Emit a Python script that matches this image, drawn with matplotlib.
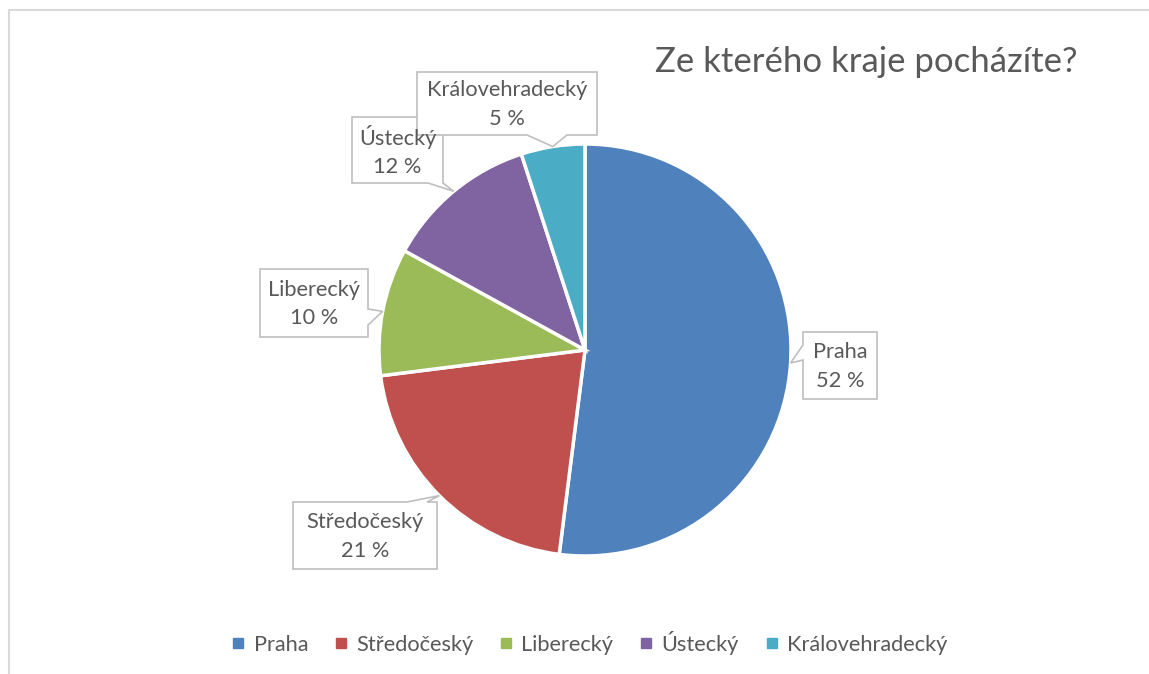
import matplotlib
matplotlib.use('Agg')
import matplotlib.pyplot as plt
from matplotlib.patches import Polygon
from matplotlib.lines import Line2D
import numpy as np

plt.rcParams['font.family'] = ['Lato', 'DejaVu Sans']

regions = ['Praha', 'Středočeský', 'Liberecký', 'Ústecký', 'Královehradecký']
shares = [52, 21, 10, 12, 5]
colors = ['#4F81BD', '#C0504D', '#9BBB59', '#8064A2', '#4BACC6']
title = 'Ze kterého kraje pocházíte?'

# callout boxes in screen pixels: (left, top, right, bottom), pointer side, pointer base span
boxes = {
    'Praha': ((803, 332, 877, 399), 'left', (345, 360)),
    'Středočeský': ((293, 502, 437, 569), 'top', (407, 427)),
    'Liberecký': ((260, 269, 368, 337), 'right', (309, 325)),
    'Ústecký': ((352, 117, 443, 183), 'bottom', (428, 443)),
    'Královehradecký': ((417, 72, 597, 135), 'bottom', (527, 567)),
}

W, H = 1149, 674
txt = '#595959'
fs = 15.7
fig = plt.figure(figsize=(W / 100, H / 100), dpi=100)
ax = fig.add_axes([0, 0, 1, 1])

cx, cy, r = 585, H - 350, 206
wedges, _ = ax.pie(shares, colors=colors, startangle=90, counterclock=False,
                   center=(cx, cy), radius=r, frame=True,
                   wedgeprops=dict(edgecolor='white', linewidth=2.5))
ax.set_xlim(0, W)
ax.set_ylim(0, H)
ax.set_aspect('auto')
ax.axis('off')

# outer chart frame
ax.plot([8.5, W], [H - 9.5, H - 9.5], color='#d9d9d9', lw=1.5, clip_on=False)
ax.plot([8.5, 8.5], [0, H - 9.5], color='#d9d9d9', lw=1.5, clip_on=False)


def callout(name, value, wedge):
    (l, t, rr, b), side, (b0, b1) = boxes[name]
    t, b = H - t, H - b
    mid = np.deg2rad((wedge.theta1 + wedge.theta2) / 2)
    tip = (cx + r * np.cos(mid), cy + r * np.sin(mid))
    if side == 'top':
        pts = [(l, t), (b0, t), tip, (b1, t), (rr, t), (rr, b), (l, b)]
    elif side == 'right':
        pts = [(l, t), (rr, t), (rr, H - b0), tip, (rr, H - b1), (rr, b), (l, b)]
    elif side == 'bottom':
        pts = [(l, t), (rr, t), (rr, b), (b1, b), tip, (b0, b), (l, b)]
    else:
        pts = [(l, t), (rr, t), (rr, b), (l, b), (l, H - b1), tip, (l, H - b0)]
    ax.add_patch(Polygon(pts, closed=True, facecolor='white',
                         edgecolor='#bfbfbf', lw=1.2, zorder=3))
    ax.text((l + rr) / 2, (t + b) / 2 - 1, f'{name}\n{value} %', ha='center',
            va='center', fontsize=fs, color=txt, linespacing=1.55, zorder=4)


for name, value, w in zip(regions, shares, wedges):
    callout(name, value, w)

ax.text(866, H - 62, title, ha='center', va='center', fontsize=25, color=txt)

handles = [Line2D([], [], marker='s', linestyle='', color=c, markersize=7)
           for c in colors]
ax.legend(handles, regions, ncol=5, loc='center',
          bbox_to_anchor=(589 / W, 1 - 643 / H), frameon=False, fontsize=fs,
          labelcolor=txt, handlelength=0.7, handletextpad=0.35,
          columnspacing=1.15)

fig.savefig('out.png', dpi=100)
